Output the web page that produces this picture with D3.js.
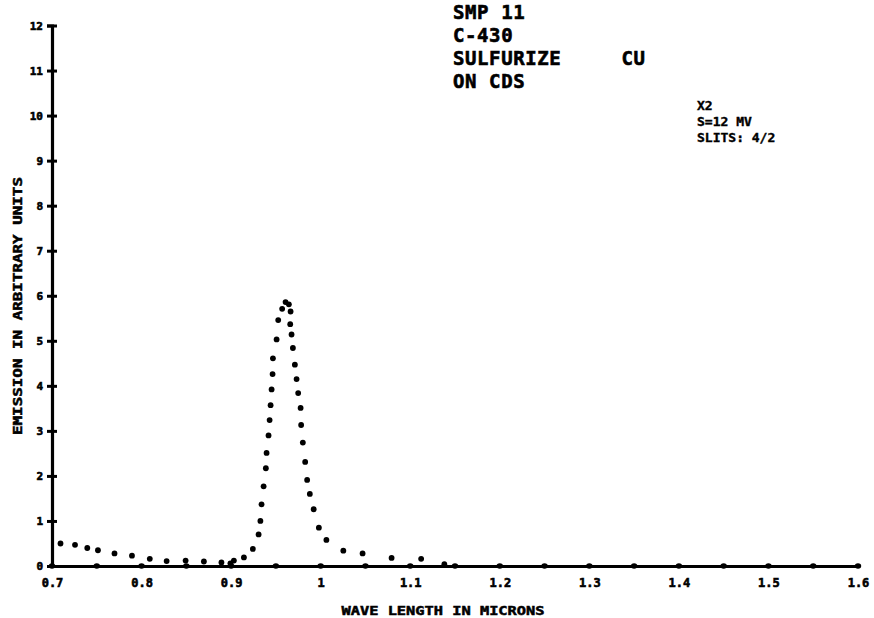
<!DOCTYPE html>
<html><head><meta charset="utf-8">
<script src="https://cdn.jsdelivr.net/npm/d3@7"></script>
<style>
html,body{margin:0;padding:0;background:#fff;}
svg{display:block;}
text{font-family:"DejaVu Sans Mono","Liberation Mono",monospace;font-weight:bold;fill:#000;white-space:pre;}
</style></head>
<body>
<svg id="chart" width="874" height="618"></svg>
<script>
// ---- data ----
const wavelength = [0.7095,0.7257,0.7394,0.7513,0.7698,0.7893,0.8092,0.828,0.8492,0.8696,0.8892,0.8992,0.9031,0.9143,0.9243,0.9307,0.9327,0.934,0.9363,0.9388,0.9396,0.9418,0.943,0.9441,0.9452,0.9463,0.9467,0.9508,0.9526,0.957,0.9608,0.9645,0.9664,0.966,0.9675,0.969,0.9712,0.9731,0.9749,0.9776,0.9782,0.9801,0.9827,0.9849,0.9879,0.9922,0.998,1.0064,1.0253,1.0468,1.0792,1.1122,1.1381];
const emission   = [0.50,0.47,0.40,0.35,0.28,0.23,0.16,0.11,0.12,0.10,0.08,0.06,0.12,0.19,0.38,0.70,1.00,1.37,1.77,2.17,2.51,2.90,3.24,3.57,3.92,4.26,4.61,5.03,5.46,5.71,5.86,5.81,5.65,5.37,5.14,4.84,4.47,4.15,3.84,3.51,3.13,2.74,2.31,1.91,1.60,1.26,0.85,0.58,0.34,0.28,0.18,0.16,0.04];
const xTickValues = [0.7,0.8,0.9,1.0,1.1,1.2,1.3,1.4,1.5,1.6];
const xTickLabels = ["0.7","0.8","0.9","1","1.1","1.2","1.3","1.4","1.5","1.6"];
const xMinorTicks = [0.7,0.75,0.8,0.85,0.9,0.95,1.0,1.05,1.1,1.15,1.2,1.25,1.3,1.35,1.4,1.45,1.5,1.55,1.6];
const yTickValues = [0,1,2,3,4,5,6,7,8,9,10,11,12];
const yTickLabels = ["0","1","2","3","4","5","6","7","8","9","10","11","12"];
const xTitle = "WAVE LENGTH IN MICRONS";
const yTitle = "EMISSION IN ARBITRARY UNITS";
const noteLines = ["SMP 11","C-430","SULFURIZE     CU","ON CDS"];
const settingLines = ["X2","S=12 MV","SLITS: 4/2"];

// ---- drawing ----
const svg = d3.select("#chart");
const x = d3.scaleLinear().domain([0.7,1.6]).range([52,858]);
const y = d3.scaleLinear().domain([0,12]).range([566,25.5]);

// x axis
const xAxis = d3.axisBottom(x).tickValues(xTickValues)
  .tickFormat((d,i)=>xTickLabels[i]).tickSize(0).tickPadding(12);
const gx = svg.append("g").attr("transform",`translate(0,${y(0)})`).call(xAxis);
gx.select(".domain").attr("stroke","#000").attr("stroke-width",3.2);
gx.selectAll("text").style("font-size","12px").style("font-family","DejaVu Sans Mono")
  .style("font-weight","bold").attr("stroke","#000").attr("stroke-width",0.6);
svg.append("g").selectAll("ellipse").data(xMinorTicks).join("ellipse")
  .attr("cx",d=>x(d)).attr("cy",y(0)).attr("rx",3.2).attr("ry",2.8).attr("fill","#000");

// y axis
const yAxis = d3.axisLeft(y).tickValues(yTickValues)
  .tickFormat((d,i)=>yTickLabels[i]).tickSize(5).tickPadding(4);
const gy = svg.append("g").attr("transform",`translate(${x(0.7)},0)`).call(yAxis);
gy.select(".domain").attr("stroke","#000").attr("stroke-width",3.2);
gy.selectAll(".tick line").attr("x2",-5).attr("x1",5).attr("stroke","#000").attr("stroke-width",3);
gy.selectAll("text").style("font-size","11px").style("font-family","DejaVu Sans Mono")
  .style("font-weight","bold").attr("stroke","#000").attr("stroke-width",0.6);

// titles
svg.append("text").attr("x",443).attr("y",615).attr("text-anchor","middle")
  .attr("textLength",203).attr("lengthAdjust","spacingAndGlyphs")
  .attr("stroke","#000").attr("stroke-width",0.5)
  .style("font-size","12px").text(xTitle);
svg.append("text").attr("transform","translate(22,306) rotate(-90)").attr("text-anchor","middle")
  .attr("textLength",258).attr("lengthAdjust","spacingAndGlyphs")
  .attr("stroke","#000").attr("stroke-width",0.5)
  .style("font-size","12px").text(yTitle);

// data points
svg.append("g").selectAll("circle").data(wavelength).join("circle")
  .attr("cx",(d)=>x(d)).attr("cy",(d,i)=>y(emission[i])).attr("r",2.9).attr("fill","#000");

// annotations
svg.append("g").selectAll("text").data(noteLines).join("text")
  .attr("x",453).attr("y",(d,i)=>19+i*23)
  .attr("stroke","#000").attr("stroke-width",0.6)
  .style("font-size","19px").style("letter-spacing","0.6px").text(d=>d);
svg.append("g").selectAll("text").data(settingLines).join("text")
  .attr("x",697).attr("y",(d,i)=>110+i*16)
  .attr("stroke","#000").attr("stroke-width",0.4)
  .style("font-size","13px").text(d=>d);
</script>
</body></html>
